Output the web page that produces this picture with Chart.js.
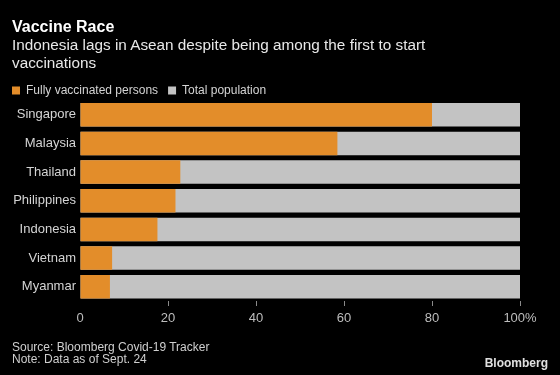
<!DOCTYPE html>
<html>
<head>
<meta charset="utf-8">
<script src="https://cdn.jsdelivr.net/npm/chart.js@4"></script>
<style>
  html, body { margin:0; padding:0; background:#000; }
  body { width:560px; height:375px; position:relative; overflow:hidden; font-family:"Liberation Sans", Arial, sans-serif; }
  #wrap { position:absolute; left:0; top:0; width:560px; height:375px; }
  .t { position:absolute; white-space:nowrap; }
  #title { left:12px; top:18.5px; font-size:16px; line-height:16px; font-weight:bold; color:#fff; }
  #sub { left:12px; top:36px; font-size:15.3px; line-height:18px; color:#e8e8e8; }
  #src { left:12px; top:340.5px; font-size:12px; line-height:12px; color:#cfcfcf; }
  #logo { right:12px; top:356.5px; font-size:12px; line-height:12px; font-weight:bold; color:#e0e0e0; }
</style>
</head>
<body>
<div id="wrap"><canvas id="c" width="560" height="375"></canvas></div>
<div class="t" id="title">Vaccine Race</div>
<div class="t" id="sub">Indonesia lags in Asean despite being among the first to start<br>vaccinations</div>
<div class="t" id="src">Source: Bloomberg Covid-19 Tracker<br>Note: Data as of Sept. 24</div>
<div class="t" id="logo">Bloomberg</div>
<script>
const countries = ["Singapore","Malaysia","Thailand","Philippines","Indonesia","Vietnam","Myanmar"];
const fullyVaccinated = [80.0, 58.5, 22.8, 21.7, 17.6, 7.3, 6.8];
const totalPopulation = [100, 100, 100, 100, 100, 100, 100];
const xTicks = [0, 20, 40, 60, 80, 100];

const legendShrink = {
  id: 'legendShrink',
  beforeInit(chart) {
    const l = chart.legend;
    if (!l) return;
    const f = l.fit;
    l.fit = function () { f.call(this); this.height -= 6; };
  }
};

new Chart(document.getElementById('c'), {
  type: 'bar',
  data: {
    labels: countries,
    datasets: [
      { label: 'Fully vaccinated persons', data: fullyVaccinated, backgroundColor: '#E38D2A', order: 0,
        barPercentage: 0.82, categoryPercentage: 1.0, borderWidth: 0 },
      { label: 'Total population', data: totalPopulation, backgroundColor: '#C3C3C3', order: 1,
        barPercentage: 0.82, categoryPercentage: 1.0, borderWidth: 0 }
    ]
  },
  options: {
    indexAxis: 'y',
    responsive: false,
    animation: false,
    devicePixelRatio: 1,
    layout: { padding: { left: 2, right: 40, top: 74.5, bottom: 44 } },
    plugins: {
      legend: {
        display: true,
        align: 'start',
        labels: {
          boxWidth: 8, boxHeight: 8, padding: 10,
          color: '#d4d4d4',
          font: { family: '"Liberation Sans", Arial, sans-serif', size: 12 }
        }
      },
      tooltip: { enabled: false }
    },
    scales: {
      x: {
        stacked: false,
        min: 0, max: 100,
        afterBuildTicks: (s) => { s.ticks = xTicks.map(v => ({ value: v })); },
        afterFit: (s) => { s.height = 30; },
        border: { display: false },
        grid: {
          display: true, drawOnChartArea: false, drawTicks: true, tickLength: 5,
          color: (ctx) => (ctx.tick && ctx.tick.value === 0) ? 'rgba(0,0,0,0)' : '#8a8a8a'
        },
        ticks: {
          color: '#bdbdbd', padding: 5,
          font: { family: '"Liberation Sans", Arial, sans-serif', size: 13 },
          callback: (v) => v === 100 ? '100%' : String(v)
        }
      },
      y: {
        stacked: true,
        afterFit: (s) => { s.width = 78; },
        border: { display: false },
        grid: { display: false, drawTicks: false },
        ticks: {
          color: '#d4d4d4', padding: 4,
          font: { family: '"Liberation Sans", Arial, sans-serif', size: 13 }
        }
      }
    }
  },
  plugins: [legendShrink]
});
</script>
</body>
</html>
